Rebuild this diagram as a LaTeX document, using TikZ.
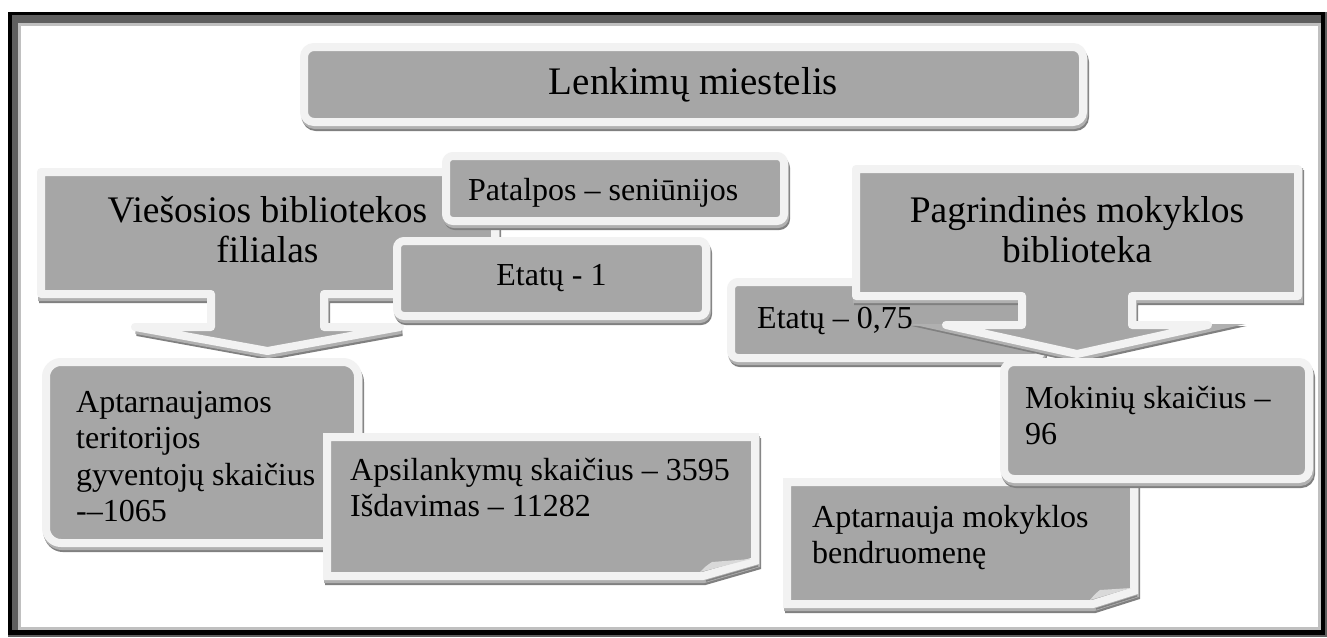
\documentclass[tikz,border=0pt]{standalone}
\usepackage{fontspec}
\setmainfont{Liberation Serif}
\definecolor{boxgray}{HTML}{A6A6A6}
\definecolor{rimc}{HTML}{F2F2F2}
\definecolor{shdA}{HTML}{808080}
\definecolor{shdB}{HTML}{B0B0B0}
\definecolor{framegray}{HTML}{5F5F5F}
\definecolor{framelight}{HTML}{C0C0C0}
\definecolor{foldc}{HTML}{D9D9D9}
\tikzset{
  rimmed/.style={draw=rimc, fill=boxgray, line width=8pt},
  shadowed/.style={
    preaction={draw=shdA, fill=shdA, line width=8pt, transform canvas={shift={(2pt,-5pt)}}},
    preaction={draw=shdB, fill=shdB, line width=8pt, transform canvas={shift={(1pt,-3pt)}}}},
  rbox/.style={rimmed, shadowed, rounded corners=#1, inner sep=0pt},
  smalltxt/.style={font=\fontsize{32}{36.5}\selectfont, inner sep=0pt, align=left, anchor=base west},
  bigtxt/.style={font=\fontsize{37.5}{40}\selectfont, inner sep=0pt, align=center, anchor=base},
}
\begin{document}
\begin{tikzpicture}[x=1pt,y=-1pt]
\useasboundingbox (0,0) rectangle (1327,637);
% page frame
\fill[white] (0,0) rectangle (1327,637);
\fill[framegray] (8,12) rectangle (1327,637);
\fill[black] (8,12) rectangle (12,635);
\fill[black] (8,12) rectangle (1325,15);
\fill[black] (1321,12) rectangle (1325,635);
\fill[black] (8,630) rectangle (1325,635);
\fill[framelight] (18,23) rectangle (1321,630);
\fill[white] (21,26) rectangle (1318,627);

% title
\node[rbox=10pt, minimum width=779pt, minimum height=75pt,
      font=\fontsize{39}{42}\selectfont] (title) at (693.5,84.5) {Lenkimų miestelis};

% left callout
\draw[rimmed, shadowed, line join=round] (41,172) -- (495,172) -- (495,294) -- (324,294) -- (324,327)
  -- (400,327) -- (267.5,351) -- (135,327) -- (211,327) -- (211,294) -- (41,294) -- cycle;
\node[bigtxt] (viesosios) at (267.5,262) {Viešosios bibliotekos\\filialas};

% Patalpos
\node[rbox=7pt, minimum width=338pt, minimum height=65pt] (patalpos) at (615,188.5) {};
\node[smalltxt] (patalposT) at (468,200) {Patalpos – seniūnijos};

% Etatu - 1
\node[rbox=7pt, minimum width=309pt, minimum height=75pt,
      font=\fontsize{32}{36.5}\selectfont] (etatu1) at (551.5,278.5) {Etatų - 1};

% Aptarnaujamos
\node[rbox=15pt, minimum width=312pt, minimum height=181pt] (aptarn) at (202,452.5) {};
\node[smalltxt] (aptarnT) at (76,521.5) {Aptarnaujamos\\teritorijos\\gyventojų skaičius\\-–1065};

% Apsilankymu (folded corner)
\draw[rimmed, shadowed] (327,437) -- (755,437) -- (755,561) -- (703,576) -- (327,576) -- cycle;
\fill[foldc] (700,572) .. controls (706,566) .. (712,562) -- (751,559) -- cycle;
\draw[shdA, line width=1.5pt] (706,581) -- (758,566);
\node[smalltxt] (apsilT) at (350,516.5) {Apsilankymų skaičius – 3595\\Išdavimas – 11282};

% Etatu 0,75
\node[rbox=7pt, minimum width=310pt, minimum height=76pt] (etatu075) at (886,320) {};
\node[smalltxt] (etatu075T) at (757,328) {Etatų – 0,75};

% right callout
\draw[rimmed, shadowed, line join=round] (856,169) -- (1298,169) -- (1298,296) -- (1132,296) -- (1132,325)
  -- (1208,325) -- (1077,354) -- (946,325) -- (1022,325) -- (1022,296) -- (856,296) -- cycle;
\node[bigtxt] (pagrind) at (1077,262) {Pagrindinės mokyklos\\biblioteka};

% Aptarnauja (folded corner)
\draw[rimmed, shadowed] (787,482) -- (1134,482) -- (1134,591) -- (1093,604) -- (787,604) -- cycle;
\fill[foldc] (1090,600) .. controls (1095,594) .. (1100,590) -- (1131,588) -- cycle;
\draw[shdA, line width=1.5pt] (1096,609) -- (1137,596);
\node[smalltxt] (aptarnaujaT) at (812,563.5) {Aptarnauja mokyklos\\bendruomenę};

% Mokiniu
\node[rbox=10pt, minimum width=305pt, minimum height=117pt] (mokiniu) at (1156.5,420.5) {};
\node[smalltxt] (mokiniuT) at (1025,444.5) {Mokinių skaičius –\\96};
\end{tikzpicture}
\end{document}
